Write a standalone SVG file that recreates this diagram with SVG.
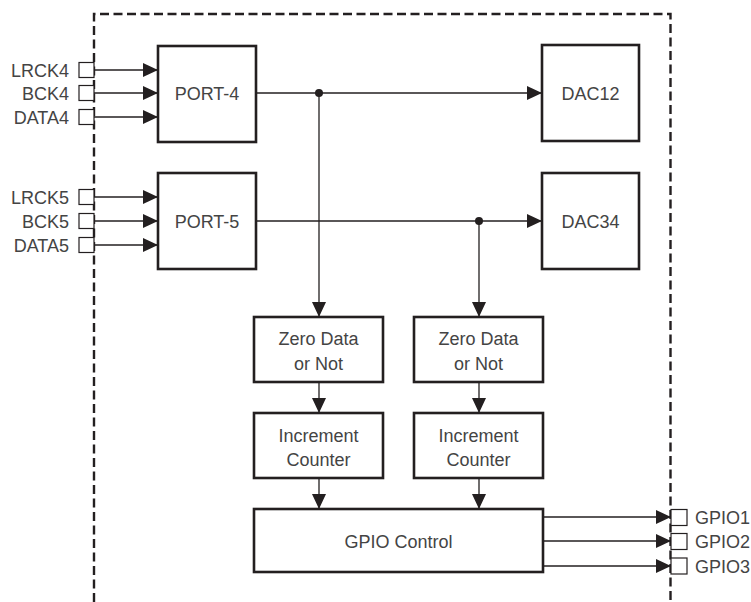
<svg xmlns="http://www.w3.org/2000/svg" width="751" height="602" viewBox="0 0 751 602">
<defs>
<marker id="arr" markerUnits="userSpaceOnUse" markerWidth="16" markerHeight="16" viewBox="0 0 16 16" refX="15" refY="8" orient="auto">
<path d="M0,1 L15,8 L0,15 Z" fill="#231f20"/>
</marker>
<style>
.box{fill:#fff;stroke:#231f20;stroke-width:2.6}
.pin{fill:#fff;stroke:#231f20;stroke-width:1.2}
.ln{fill:none;stroke:#231f20;stroke-width:1.3}
.arr{marker-end:url(#arr)}
.t{font-family:"Liberation Sans",Arial,sans-serif;font-size:18px;fill:#444}
.c{text-anchor:middle}
.r{text-anchor:end}
.border{fill:none;stroke:#231f20;stroke-width:2.4;stroke-dasharray:9 4.5}
</style>
</defs>
<rect width="751" height="602" fill="#fff"/>
<path class="border" d="M94,602 L94,14 L670.5,14 L670.5,602"/>

<g id="connectors">
<line class="ln arr" x1="94" y1="70" x2="158" y2="70"/>
<line class="ln arr" x1="94" y1="93" x2="158" y2="93"/>
<line class="ln arr" x1="94" y1="117" x2="158" y2="117"/>
<line class="ln arr" x1="94" y1="197" x2="158" y2="197"/>
<line class="ln arr" x1="94" y1="221" x2="158" y2="221"/>
<line class="ln arr" x1="94" y1="245" x2="158" y2="245"/>
<line class="ln arr" x1="256" y1="93" x2="542" y2="93"/>
<circle cx="319" cy="93" r="4" fill="#231f20"/>
<line class="ln arr" x1="319" y1="93" x2="319" y2="317"/>
<line class="ln arr" x1="256" y1="221" x2="542" y2="221"/>
<circle cx="479" cy="221" r="4" fill="#231f20"/>
<line class="ln arr" x1="479" y1="221" x2="479" y2="317"/>
<line class="ln arr" x1="319" y1="382" x2="319" y2="413"/>
<line class="ln arr" x1="479" y1="382" x2="479" y2="413"/>
<line class="ln arr" x1="319" y1="478" x2="319" y2="509"/>
<line class="ln arr" x1="479" y1="478" x2="479" y2="509"/>
<line class="ln arr" x1="543" y1="517" x2="671" y2="517"/>
<line class="ln arr" x1="543" y1="541" x2="671" y2="541"/>
<line class="ln arr" x1="543" y1="566" x2="671" y2="566"/>
</g>

<g id="pin-lrck4"><rect class="pin" x="79" y="62.5" width="15" height="15"/><text class="t r" x="69" y="76.5">LRCK4</text></g>
<g id="pin-bck4"><rect class="pin" x="79" y="85.5" width="15" height="15"/><text class="t r" x="69" y="99.5">BCK4</text></g>
<g id="pin-data4"><rect class="pin" x="79" y="109.5" width="15" height="15"/><text class="t r" x="69" y="123.5">DATA4</text></g>
<g id="pin-lrck5"><rect class="pin" x="79" y="189.5" width="15" height="15"/><text class="t r" x="69" y="203.5">LRCK5</text></g>
<g id="pin-bck5"><rect class="pin" x="79" y="213.5" width="15" height="15"/><text class="t r" x="69" y="227.5">BCK5</text></g>
<g id="pin-data5"><rect class="pin" x="79" y="237.5" width="15" height="15"/><text class="t r" x="69" y="251.5">DATA5</text></g>

<g id="port4"><rect class="box" x="158" y="46" width="98" height="96"/><text class="t c" x="207" y="99.5">PORT-4</text></g>
<g id="port5"><rect class="box" x="158" y="173" width="98" height="96"/><text class="t c" x="207" y="227.5">PORT-5</text></g>
<g id="dac12"><rect class="box" x="542" y="45" width="97" height="96"/><text class="t c" x="590.5" y="99.5">DAC12</text></g>
<g id="dac34"><rect class="box" x="542" y="173" width="97" height="96"/><text class="t c" x="590.5" y="227.5">DAC34</text></g>

<g id="zero1"><rect class="box" x="254" y="317" width="129" height="65"/><text class="t c" x="318.5" y="345">Zero Data</text><text class="t c" x="318.5" y="370">or Not</text></g>
<g id="zero2"><rect class="box" x="414" y="317" width="129" height="65"/><text class="t c" x="478.5" y="345">Zero Data</text><text class="t c" x="478.5" y="370">or Not</text></g>
<g id="inc1"><rect class="box" x="254" y="413" width="129" height="65"/><text class="t c" x="318.5" y="442">Increment</text><text class="t c" x="318.5" y="466">Counter</text></g>
<g id="inc2"><rect class="box" x="414" y="413" width="129" height="65"/><text class="t c" x="478.5" y="442">Increment</text><text class="t c" x="478.5" y="466">Counter</text></g>
<g id="gpioctl"><rect class="box" x="254" y="509" width="289" height="63"/><text class="t c" x="398.5" y="548">GPIO Control</text></g>

<g id="pin-gpio1"><rect class="pin" x="671" y="509.5" width="16" height="16"/><text class="t" x="695" y="523.5">GPIO1</text></g>
<g id="pin-gpio2"><rect class="pin" x="671" y="533.5" width="16" height="16"/><text class="t" x="695" y="547.5">GPIO2</text></g>
<g id="pin-gpio3"><rect class="pin" x="671" y="558" width="16" height="16"/><text class="t" x="695" y="572.5">GPIO3</text></g>
</svg>
